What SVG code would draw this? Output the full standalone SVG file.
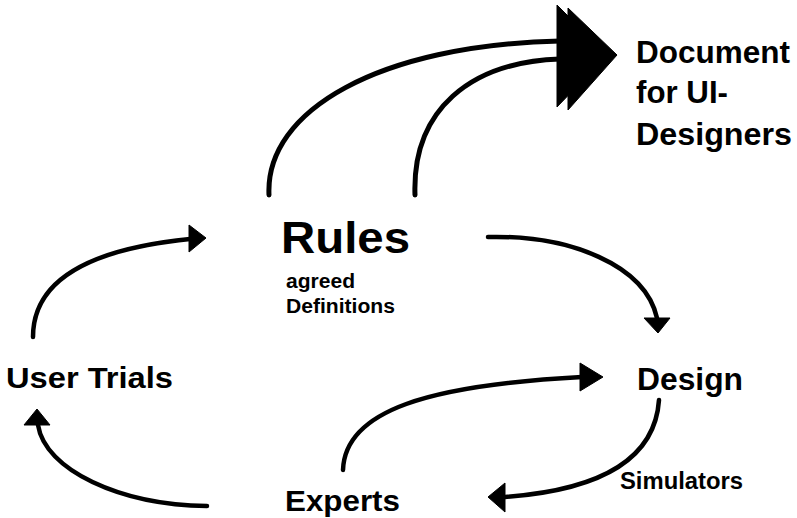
<svg xmlns="http://www.w3.org/2000/svg" width="797" height="518" viewBox="0 0 797 518">
<style>
text{font-family:"Liberation Sans",Arial,Helvetica,sans-serif;font-weight:bold;fill:#000}
.c{fill:none;stroke:#000;stroke-width:4.5;stroke-linecap:round}
.ct{fill:none;stroke:#000;stroke-width:5;stroke-linecap:round}
.h{fill:#000;stroke:#000;stroke-width:1;stroke-linejoin:round}
</style>
<rect width="797" height="518" fill="#fff"/>
<g id="connectors">
<path class="ct" d="M269,195 C265,110 380,45 560,41"/>
<path class="ct" d="M415,195 C412,110 470,62 560,59"/>
<polygon class="h" points="557,5 557,107 607,55"/>
<polygon class="h" points="568,8 568,110 617,55"/>
<path class="c" d="M33,337 C33,285 80,250 190,239"/>
<polygon class="h" points="189,225 189,252 206,238"/>
<path class="c" d="M488,237 C570,235 645,265 657,318"/>
<polygon class="h" points="644,318 670,318 658,333"/>
<path class="c" d="M659,400 C655,460 600,490 505,497"/>
<polygon class="h" points="505,483 505,512 488,497"/>
<path class="c" d="M343,470 C345,410 430,385 582,377"/>
<polygon class="h" points="580,363 580,391 603,377"/>
<path class="c" d="M207,506 C120,505 45,470 38,425"/>
<polygon class="h" points="37,409 24,425 50,425"/>
</g>
<g id="document">
<text x="636" y="63" font-size="31" textLength="154" lengthAdjust="spacingAndGlyphs">Document</text>
<text x="636" y="103" font-size="31" textLength="92" lengthAdjust="spacingAndGlyphs">for UI-</text>
<text x="636" y="145" font-size="31" textLength="156" lengthAdjust="spacingAndGlyphs">Designers</text>
</g>
<g id="rules">
<text x="281" y="253" font-size="45" textLength="129" lengthAdjust="spacingAndGlyphs">Rules</text>
<text x="286" y="288" font-size="20" textLength="69" lengthAdjust="spacingAndGlyphs">agreed</text>
<text x="286" y="313" font-size="20" textLength="109" lengthAdjust="spacingAndGlyphs">Definitions</text>
</g>
<g id="user-trials">
<text x="6" y="388" font-size="30" textLength="167" lengthAdjust="spacingAndGlyphs">User Trials</text>
</g>
<g id="design">
<text x="637" y="390" font-size="31" textLength="106" lengthAdjust="spacingAndGlyphs">Design</text>
</g>
<g id="simulators">
<text x="620" y="489" font-size="23" textLength="123" lengthAdjust="spacingAndGlyphs">Simulators</text>
</g>
<g id="experts">
<text x="285" y="511" font-size="30" textLength="115" lengthAdjust="spacingAndGlyphs">Experts</text>
</g>
</svg>
